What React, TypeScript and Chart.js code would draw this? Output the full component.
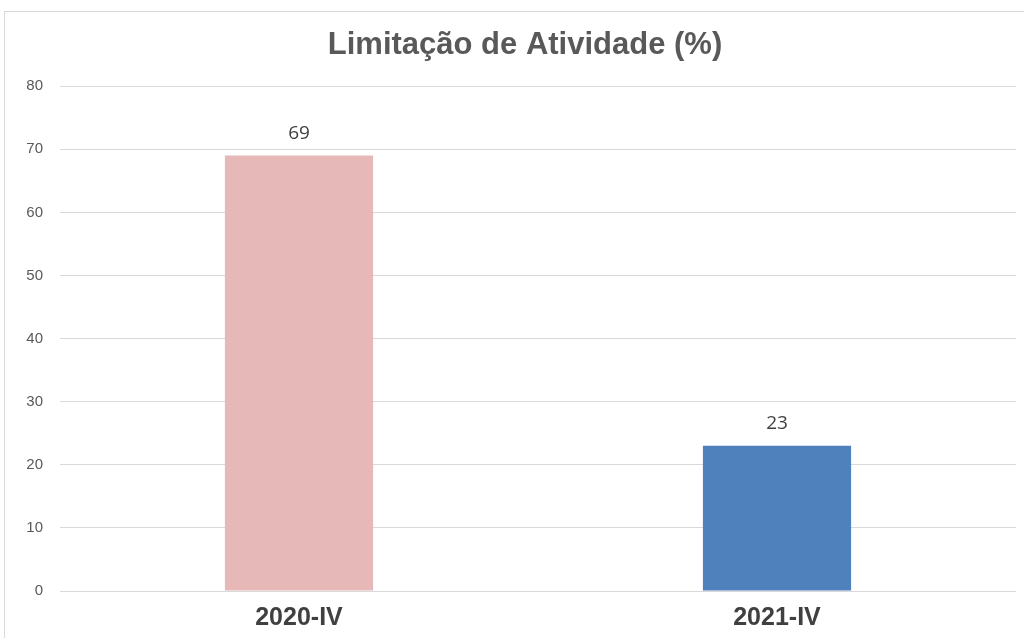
import React, { useEffect, useRef } from "react";
import { Chart, registerables } from "chart.js";

Chart.register(...registerables);

const categories = ["2020-IV", "2021-IV"];
const values = [69, 23];
const barColors = ["#E6B8B7", "#4F81BD"];
const yTicks = [0, 10, 20, 30, 40, 50, 60, 70, 80];
const title = "Limitação de Atividade (%)";

const narrow = "'Liberation Sans Narrow', 'Arial Narrow', 'Liberation Sans', Arial, sans-serif";

const dataLabels = {
  id: "dataLabels",
  afterDatasetsDraw(chart: any) {
    const ctx = chart.ctx;
    const meta = chart.getDatasetMeta(0);
    ctx.save();
    ctx.font = "19px 'Open Sans', 'Liberation Sans', sans-serif";
    ctx.fillStyle = "#404040";
    ctx.textAlign = "center";
    ctx.textBaseline = "middle";
    meta.data.forEach((bar: any, i: number) => {
      ctx.fillText(String(values[i]), bar.x, bar.y - 22);
    });
    ctx.restore();
  },
};

// center the title over the whole canvas rather than the padded area
const titleSpan = {
  id: "titleSpan",
  afterLayout(chart: any) {
    const t = chart.titleBlock;
    if (t) {
      t.left = 0;
      t.right = chart.width;
      t.width = chart.width;
    }
  },
};

export default function App() {
  const ref = useRef<HTMLCanvasElement | null>(null);
  useEffect(() => {
    document.body.style.margin = "0";
    document.body.style.overflow = "hidden";
    const chart = new Chart(ref.current!, {
      type: "bar",
      data: {
        labels: categories,
        datasets: [
          {
            data: values,
            backgroundColor: barColors,
            barPercentage: 0.31,
            categoryPercentage: 1,
          },
        ],
      },
      options: {
        animation: false,
        responsive: false,
        layout: { padding: { left: 0, right: 29, top: 0, bottom: 8 } },
        plugins: {
          legend: { display: false },
          tooltip: { enabled: false },
          title: {
            display: true,
            text: title,
            color: "#595959",
            font: { family: narrow, size: 31, weight: "bold" },
            padding: { top: 15, bottom: 22 },
          },
        },
        scales: {
          x: {
            grid: { display: false, drawTicks: false },
            border: { display: false },
            ticks: {
              color: "#404040",
              font: { family: narrow, size: 25, weight: "bold" },
              padding: 12,
            },
          },
          y: {
            min: 0,
            max: 80,
            afterFit(scale: any) {
              scale.width = 55;
            },
            afterBuildTicks(scale: any) {
              scale.ticks = yTicks.map((v) => ({ value: v }));
            },
            grid: { color: "#D9D9D9", lineWidth: 1, drawTicks: false },
            border: { display: false },
            ticks: {
              color: "#595959",
              font: { family: narrow, size: 15 },
              padding: 17,
            },
          },
        },
      },
      plugins: [titleSpan, dataLabels],
    });
    return () => chart.destroy();
  }, []);
  return (
    <div
      style={{
        position: "absolute",
        left: 4,
        top: 11,
        width: 1060,
        height: 660,
        border: "1px solid #D9D9D9",
        boxSizing: "border-box",
        background: "#fff",
      }}
    >
      <canvas ref={ref} width={1040} height={641} style={{ display: "block" }} />
    </div>
  );
}
